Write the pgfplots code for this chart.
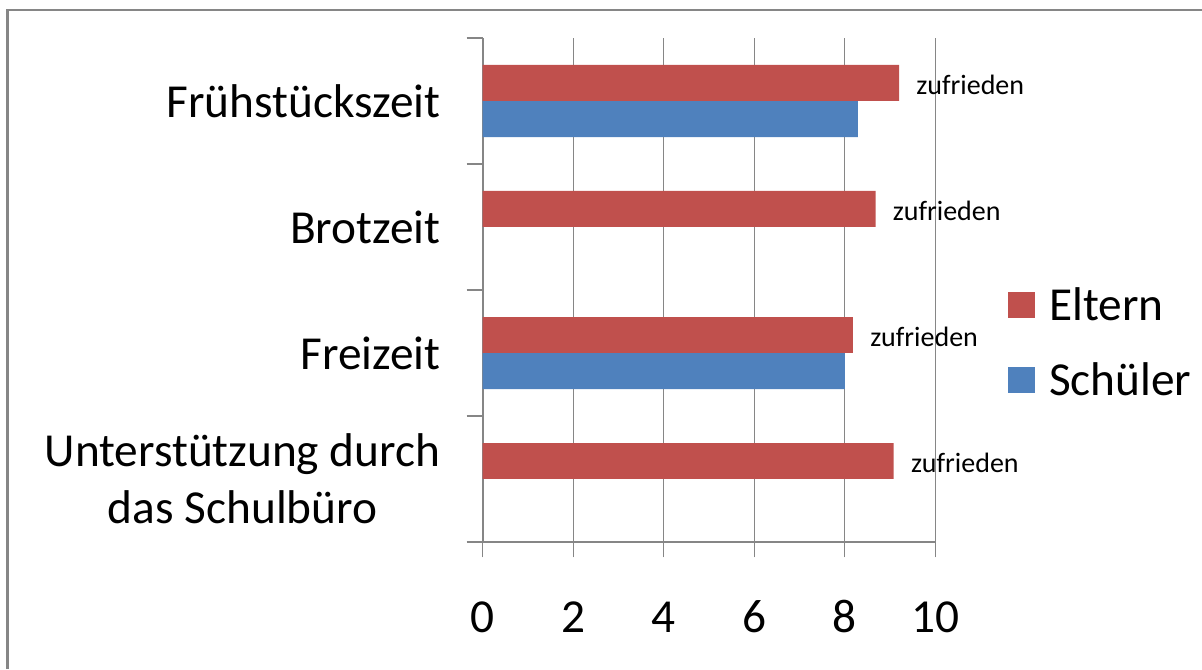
\documentclass[border=0pt]{standalone}
\usepackage{pgfplots}
\pgfplotsset{compat=1.18}
\usepackage{fontspec}
\setmainfont{Carlito}
\definecolor{eltern}{HTML}{C0504D}
\definecolor{schueler}{HTML}{4F81BD}
\definecolor{axgray}{HTML}{868686}
\begin{document}
\begin{tikzpicture}[x=1pt,y=1pt]
\useasboundingbox (0,0) rectangle (901.5,501.75);
\draw[line width=2pt, axgray] (5.6,0) -- (5.6,494.25) -- (902,494.25);
\begin{axis}[
  at={(362pt,95.25pt)}, anchor=south west,
  width=339.5pt, height=378pt, scale only axis,
  xmin=0, xmax=10, ymin=0.5, ymax=4.5,
  xtick={0,2,4,6,8,10},
  ytick={1,2,3,4},
  yticklabels={{Unterstützung durch\\das Schulbüro}, Freizeit, Brotzeit, Frühstückszeit},
  minor ytick={0.5,1.5,2.5,3.5,4.5},
  tick align=outside,
  major tick length=11.5pt,
  minor tick length=12pt,
  major y tick style={draw=none},
  minor y tick style={axgray, line width=1.2pt},
  major x tick style={axgray, line width=1pt},
  axis x line*=bottom, axis y line*=left,
  x axis line style={axgray, line width=1pt, -},
  y axis line style={axgray, line width=1.5pt, -},
  xmajorgrids, major grid style={axgray, line width=0.9pt},
  /pgf/number format/assume math mode=true,
  xticklabel style={anchor=base, inner sep=0pt, yshift=-56.5pt, font=\fontsize{35.5}{40}\selectfont},
  yticklabel style={anchor=east, inner sep=0pt, xshift=-20pt, align=center, font=\fontsize{35.5}{43}\selectfont},
  xbar, bar width=0.2857,
  legend style={at={(1.1615,0.396)}, anchor=west, draw=none, fill=none, inner sep=0pt, outer sep=0pt,
    font=\fontsize{35.5}{40}\selectfont, row sep=30pt, column sep=10.5pt,
    nodes={inner sep=0pt}},
  legend cell align=left,
  legend image code/.code={\fill[#1,draw=none] (0pt,-9.5pt) rectangle (20pt,9.5pt);},
]
\addplot[fill=eltern, draw=none, bar shift=0.1429,
  nodes near coords={zufrieden},
  nodes near coords style={anchor=west, inner sep=0pt, xshift=12.8pt, yshift=-1.5pt, text=black, font=\fontsize{21}{24}\selectfont}]
  coordinates {(9.20,4) (8.68,3) (8.18,2) (9.08,1)};
\addlegendentry{Eltern}
\addplot[fill=schueler, draw=none, bar shift=-0.1429]
  coordinates {(8.29,4) (8.00,2)};
\addlegendentry{Schüler}
\end{axis}
\end{tikzpicture}
\end{document}
